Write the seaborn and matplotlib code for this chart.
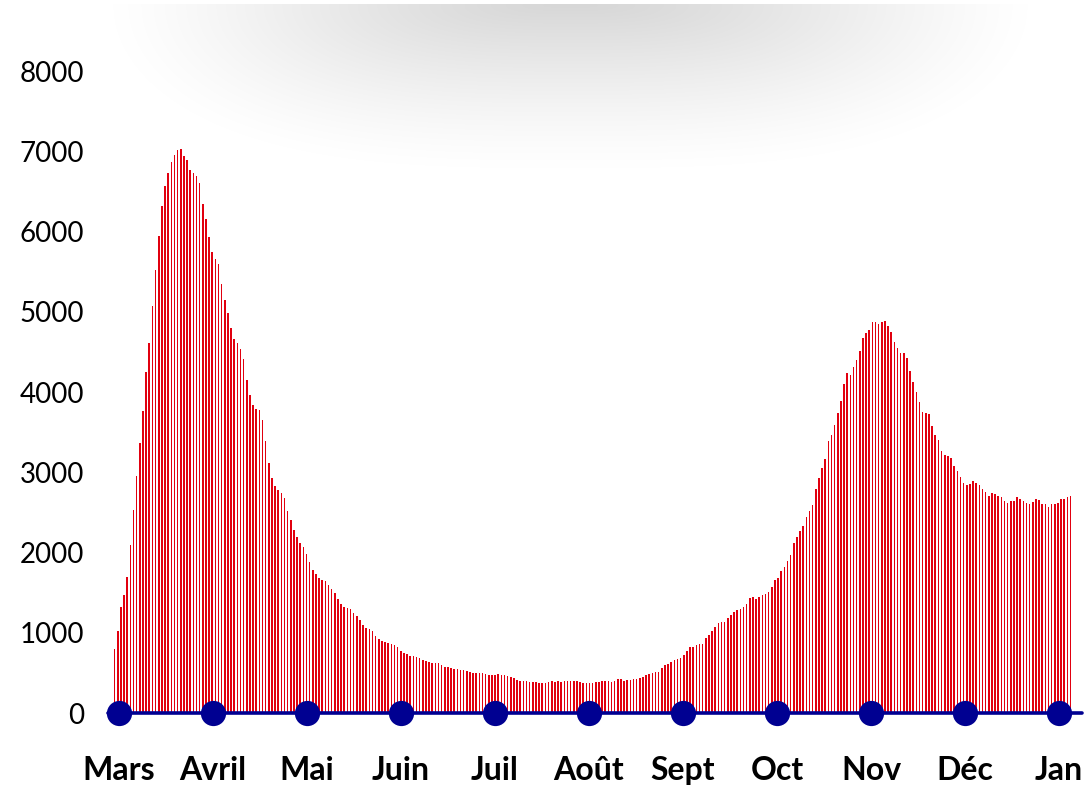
import numpy as np
import pandas as pd
import seaborn as sns
import matplotlib
matplotlib.use("Agg")
from matplotlib import pyplot as plt

# daily values (left to right)
wave1_rise = [794, 1025, 1315, 1472, 1694, 2095, 2524, 2949, 3364, 3766,
              4250, 4606, 5072, 5515, 5949, 6313, 6567, 6733, 6872, 6955,
              7010, 7029, 6946, 6886, 6761, 6724, 6692, 6609, 6341, 6156]
wave1_fall = [5930, 5741, 5653, 5598, 5349, 5141, 4984, 4800, 4657, 4606,
              4541, 4407, 4144, 3964, 3835, 3784, 3780, 3655, 3387, 3111,
              2926, 2834, 2778, 2746, 2682, 2520, 2404, 2275, 2188]
spring_tail = [2123, 2069, 1981, 1882, 1782, 1732, 1687, 1662, 1645, 1599,
               1545, 1491, 1425, 1354, 1321, 1308, 1296, 1246, 1209, 1159,
               1097, 1059, 1047, 1022, 955, 926, 901, 881, 872, 864,
               847, 818, 769, 752, 731, 714, 710, 698, 685]
summer_low = [656, 648, 635, 623, 623, 619, 598, 577, 569, 560,
              544, 544, 535, 531, 527, 511, 498, 494, 494, 494,
              486, 478, 478, 478, 482, 469, 469, 457, 449, 440,
              407, 395, 395, 399, 386, 386, 386, 374, 370, 370,
              386, 395, 382, 395, 382, 395, 395]
late_summer = [395, 399, 395, 386, 374, 370, 374, 374, 386, 386,
               395, 395, 395, 390, 399, 420, 424, 403, 407, 407,
               428, 428, 436, 449, 469, 490, 498, 507, 507, 561,
               594, 615, 636, 660, 677, 690, 727, 777, 822, 818,
               847, 856, 860]
wave2_rise = [935, 972, 1022, 1072, 1117, 1134, 1134, 1180, 1221, 1254,
              1284, 1296, 1321, 1358, 1437, 1441, 1425, 1446, 1466, 1483,
              1508, 1566, 1657, 1682, 1765, 1815, 1890, 1965, 2114, 2193,
              2264, 2330, 2447, 2517, 2596, 2787, 2929, 3057, 3165, 3385,
              3464, 3589, 3743, 3888, 4100, 4237]
wave2_peak_and_fall = [4212, 4316, 4403, 4515, 4669, 4731, 4777, 4868, 4877, 4843,
                       4868, 4889, 4818, 4752, 4627, 4553, 4482, 4482, 4424, 4262,
                       4129, 3996, 3871, 3755, 3739, 3730, 3581, 3469, 3406, 3269,
                       3211, 3207, 3182, 3074, 3020, 2941, 2870, 2845, 2854, 2891,
                       2862, 2837, 2787, 2758, 2708, 2742, 2733, 2708, 2692, 2638,
                       2613, 2638, 2642, 2688, 2667, 2646, 2621, 2605, 2634, 2663,
                       2650, 2609, 2600, 2567, 2600, 2600, 2613, 2663, 2671, 2692,
                       2700]

months = ["Mars", "Avril", "Mai", "Juin", "Juil", "Août", "Sept", "Oct", "Nov", "Déc", "Jan"]
y_ticks = [0, 1000, 2000, 3000, 4000, 5000, 6000, 7000, 8000]

values = (wave1_rise + wave1_fall + spring_tail + summer_low
          + late_summer + wave2_rise + wave2_peak_and_fall)
df = pd.DataFrame({"day": np.arange(len(values)), "value": values})

RED = "#e1000f"
NAVY = "#000091"

sns.set_style("white")
plt.rcParams["font.family"] = ["Lato", "DejaVu Sans"]

W, H = 1091, 791
fig = plt.figure(figsize=(W / 100, H / 100), dpi=100)

# soft grey shadow along the top edge
bg = fig.add_axes([0, 0, 1, 1], zorder=0)
yy, xx = np.mgrid[0:H, 0:W]
r = (np.abs((xx - 570) / 480.0) ** 3 + np.abs((yy - 5) / 175.0) ** 2) ** 0.5
shade = np.clip(1 - r, 0, 1) ** 1.4 * 0.16
shade[yy < 4] = 0
img = np.zeros((H, W, 4))
img[..., 3] = shade
bg.imshow(img, aspect="auto", extent=[0, W, H, 0])
bg.set_axis_off()

# main chart
step = 3.144
first = 114.7
ax = fig.add_axes([108 / W, (H - 713) / H, (1082 - 108) / W, (713 - 71) / H], zorder=1)
ax.patch.set_alpha(0)
sns.barplot(data=df, x="day", y="value", color=RED, saturation=1, width=0.5,
            linewidth=0, ax=ax)

ax.set_xlim((108 - first) / step, (1082 - first) / step)
ax.set_ylim(0, 8000)

month_pos = np.linspace((119 - first) / step, (1059 - first) / step, len(months))
ax.axhline(0, color=NAVY, lw=2.6, clip_on=False, zorder=3)
ax.scatter(month_pos, np.zeros(len(months)), s=330, color=NAVY,
           zorder=4, clip_on=False, linewidths=0)

ax.set_xticks(month_pos)
ax.set_xticklabels(months, fontsize=23, fontweight="bold", color="black")
ax.set_yticks(y_ticks)
ax.set_yticklabels([str(v) for v in y_ticks], fontsize=20, color="black")
ax.tick_params(axis="x", length=0, pad=31)
ax.tick_params(axis="y", length=0, pad=17)
ax.set_xlabel("")
ax.set_ylabel("")
sns.despine(ax=ax, left=True, bottom=True)

fig.savefig("out.png", dpi=100)
